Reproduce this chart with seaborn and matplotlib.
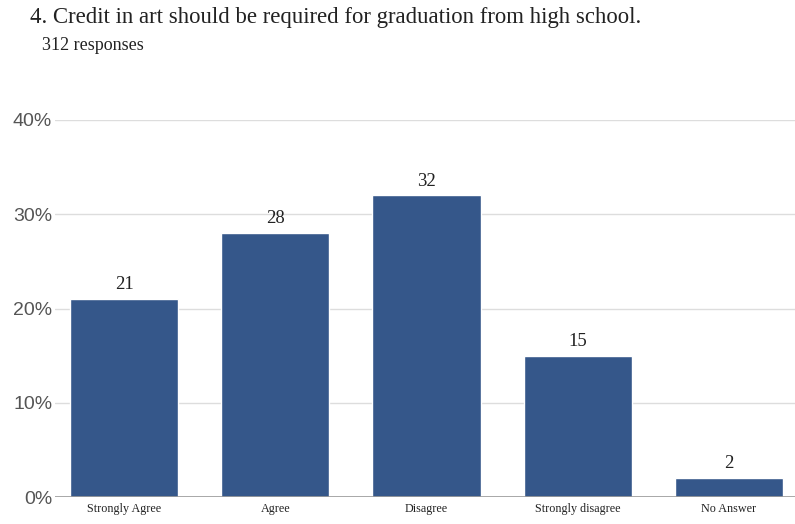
import matplotlib
matplotlib.use("Agg")
import matplotlib.pyplot as plt
import seaborn as sns
import pandas as pd

categories = ["Strongly Agree", "Agree", "Disagree", "Strongly disagree", "No Answer"]
values = [21, 28, 32, 15, 2]
yticks = [0, 10, 20, 30, 40]
ytick_labels = ["0%", "10%", "20%", "30%", "40%"]
title = "4. Credit in art should be required for graduation from high school."
subtitle = "312 responses"

sns.set_theme(style="white")
df = pd.DataFrame({"cat": categories, "val": values})

fig = plt.figure(figsize=(7.95, 5.24), dpi=100)
ax = fig.add_axes([55/795, 27/524, 740/795, (497-120)/524])
sns.barplot(data=df, x="cat", y="val", color="#35578a", saturation=1, width=0.715, ax=ax, zorder=3)

ax.set_xlim(-0.457, 4.437)
ax.set_ylim(0, 40)
ax.set_yticks(yticks)
ax.set_yticklabels(ytick_labels, family="Liberation Sans", fontsize=14, color="#555555")
ax.set_xticks(range(len(categories)))
ax.set_xticklabels(categories, family="Liberation Serif", fontsize=8.7, color="#222222")
ax.set_xlabel("")
ax.set_ylabel("")
for y in yticks[1:]:
    ax.axhline(y, color="#dddddd", lw=1, zorder=0)
ax.axhline(0, color="#999999", lw=1.2, zorder=4)
for s in ax.spines.values():
    s.set_visible(False)
ax.tick_params(axis="both", length=0, pad=4)
ax.tick_params(axis="y", pad=2)

for i, v in enumerate(values):
    ax.text(i, v + 0.6, str(v), ha="center", va="bottom", family="Liberation Serif", fontsize=13.5, color="#222222")

fig.text(30/795, 1 - 18/524, title, family="Liberation Serif", fontsize=16.4, color="#222222", va="center")
fig.text(42/795, 1 - 46/524, subtitle, family="Liberation Serif", fontsize=13, color="#222222", va="center")

fig.savefig("out.png", dpi=100)
